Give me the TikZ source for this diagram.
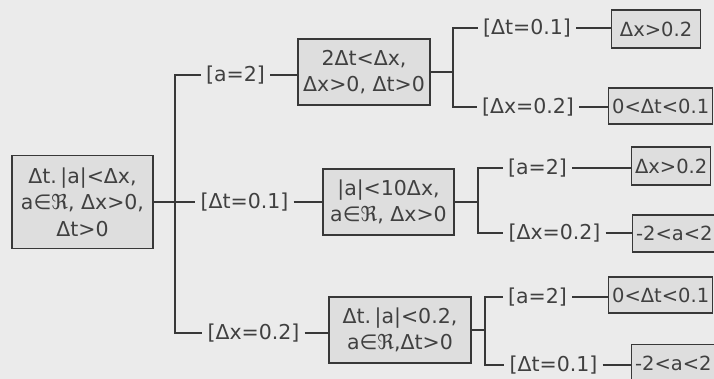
\documentclass[tikz,border=0pt]{standalone}
\usepackage{fontspec}
\setmainfont{DejaVu Sans}
\definecolor{bgcol}{HTML}{EBEBEB}
\definecolor{boxcol}{HTML}{DEDEDE}
\definecolor{inkcol}{HTML}{404040}
\definecolor{linecol}{HTML}{383838}
\tikzset{
  cbox/.style={draw=linecol, fill=boxcol, line width=1.2pt, align=center, inner sep=0pt, text=inkcol},
  lab/.style={inner xsep=5pt, inner ysep=0pt, text=inkcol},
  leaf/.style={draw=linecol, fill=boxcol, line width=1.2pt, anchor=west, minimum height=37pt, inner xsep=3.5pt, inner ysep=0pt, text=inkcol, font=\fontsize{19.5}{24}\selectfont},
  conn/.style={draw=linecol, line width=1.2pt}
}
\begin{document}
\begin{tikzpicture}[x=1pt,y=-1pt,font=\fontsize{20.5}{26.5}\selectfont]
\useasboundingbox (0,0) rectangle (714,379);
\fill[bgcol] (0,0) rectangle (714,379);
% root
\node[cbox, minimum width=141pt, minimum height=93pt] (root) at (82.5,202) {Δt.\,|a|<Δx,\\a∈ℜ, Δx>0,\\Δt>0};
% first level labels
\node[lab] (la1) at (235.5,75) {[a=2]};
\node[lab] (lb1) at (244.5,202) {[Δt=0.1]};
\node[lab] (lc1) at (253.5,333) {[Δx=0.2]};
\coordinate (t1) at (175,202);
\draw[conn] (la1.west) -| (t1) |- (lc1.west);
\draw[conn] (root.east) -- (lb1.west);
% first level boxes
\node[cbox, minimum width=132pt, minimum height=66pt] (A) at (364,72) {2Δt<Δx,\\Δx>0, Δt>0};
\node[cbox, minimum width=131pt, minimum height=66pt] (B) at (388.5,202) {|a|<10Δx,\\a∈ℜ, Δx>0};
\node[cbox, minimum width=142pt, minimum height=66pt] (C) at (400,330) {Δt.\,|a|<0.2,\\a∈ℜ,Δt>0};
\draw[conn] (la1.east) -- (la1.east -| A.west);
\draw[conn] (lb1.east) -- (lb1.east -| B.west);
\draw[conn] (lc1.east) -- (lc1.east -| C.west);
% second level: A
\node[lab] (a1) at (527,28) {[Δt=0.1]};
\node[lab] (a2) at (528,107) {[Δx=0.2]};
\coordinate (ta) at (453,72);
\draw[conn] (A.east) -- (ta);
\draw[conn] (a1.west) -| (ta) |- (a2.west);
\node[leaf, minimum height=38pt, minimum width=89pt] (A1) at (611,29) {Δx>0.2};
\node[leaf, minimum height=36pt] (A2) at (608,106) {0<Δt<0.1};
\draw[conn] (a1.east) -- (a1.east -| A1.west);
\draw[conn] (a2.east) -- (a2.east -| A2.west);
% second level: B
\node[lab] (b1) at (537.5,168) {[a=2]};
\node[lab] (b2) at (554.5,233) {[Δx=0.2]};
\coordinate (tb) at (478,202);
\draw[conn] (B.east) -- (tb);
\draw[conn] (b1.west) -| (tb) |- (b2.west);
\node[leaf, minimum height=38pt] (B1) at (631,166) {Δx>0.2};
\node[leaf] (B2) at (632,233.5) {-2<a<2};
\draw[conn] (b1.east) -- (b1.east -| B1.west);
\draw[conn] (b2.east) -- (b2.east -| B2.west);
% second level: C
\node[lab] (c1) at (537.5,297) {[a=2]};
\node[lab] (c2) at (553.5,365) {[Δt=0.1]};
\coordinate (tc) at (485,330);
\draw[conn] (C.east) -- (tc);
\draw[conn] (c1.west) -| (tc) |- (c2.west);
\node[leaf, minimum height=36pt] (C1) at (608,295) {0<Δt<0.1};
\node[leaf] (C2) at (631,363) {-2<a<2};
\draw[conn] (c1.east) -- (c1.east -| C1.west);
\draw[conn] (c2.east) -- (c2.east -| C2.west);
\end{tikzpicture}
\end{document}
